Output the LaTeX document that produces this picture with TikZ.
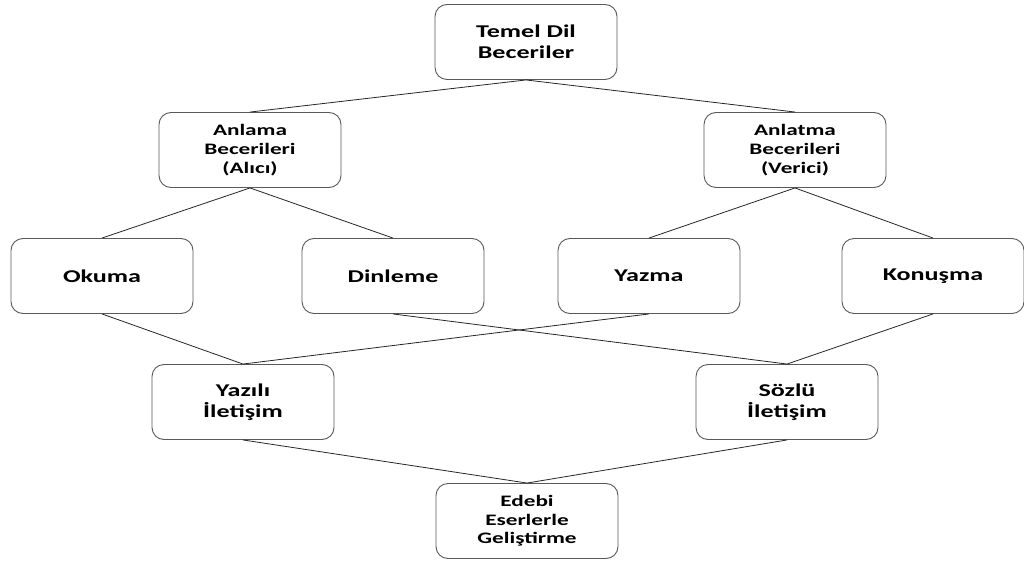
\documentclass[tikz,border=0pt]{standalone}
\usepackage{fontspec}
\setmainfont{Carlito}[FakeStretch=1.45]
\usetikzlibrary{positioning}

\newcommand{\bigtxt}{\fontsize{18}{20.5}\selectfont\bfseries}
\newcommand{\smalltxt}{\fontsize{16}{18.7}\selectfont\bfseries}

\tikzset{
  skillbox/.style={draw=black!65, line width=0.9pt, rounded corners=12pt,
                   fill=white, minimum width=182pt, minimum height=75pt,
                   align=center, font=\bigtxt},
  smallbox/.style={skillbox, font=\smalltxt},
  link/.style={draw=black!85, line width=0.8pt}
}

\begin{document}
\begin{tikzpicture}[x=1pt, y=1pt]

  \useasboundingbox (0,0) rectangle (1024,563);

  %% ── Row heights ────────────────────────────────────────────
  \def\ytop{521}
  \def\ymid{413}
  \def\yskill{287}
  \def\ycomm{161}
  \def\ybottom{42}

  %% ── Nodes ──────────────────────────────────────────────────
  \node[skillbox] (temel) at (526, \ytop) {Temel Dil\\Beceriler};

  \node[smallbox] (anlama)  at (250, \ymid) {Anlama\\Becerileri\\(Alıcı)};
  \node[smallbox] (anlatma) at (795, \ymid) {Anlatma\\Becerileri\\(Verici)};

  \node[skillbox] (okuma)   at (102, \yskill) {Okuma};
  \node[skillbox] (dinleme) at (393, \yskill) {Dinleme};
  \node[skillbox] (yazma)   at (649, \yskill) {Yazma};
  \node[skillbox] (konusma) at (933, \yskill) {Konuşma};

  \node[skillbox] (yazili) at (243, \ycomm) {Yazılı\\İletişim};
  \node[skillbox] (sozlu)  at (787, \ycomm) {Sözlü\\İletişim};

  \node[smallbox] (edebi) at (527, \ybottom) {Edebi\\Eserlerle\\Geliştirme};

  %% ── Connectors ─────────────────────────────────────────────
  \draw[link] (temel.south) -- (anlama.north);
  \draw[link] (temel.south) -- (anlatma.north);

  \draw[link] (anlama.south) -- (okuma.north);
  \draw[link] (anlama.south) -- (dinleme.north);
  \draw[link] (anlatma.south) -- (yazma.north);
  \draw[link] (anlatma.south) -- (konusma.north);

  \draw[link] (okuma.south) -- (yazili.north);
  \draw[link] (yazma.south) -- (yazili.north);
  \draw[link] (dinleme.south) -- (sozlu.north);
  \draw[link] (konusma.south) -- (sozlu.north);

  \draw[link] (yazili.south) -- (edebi.north);
  \draw[link] (sozlu.south) -- (edebi.north);

\end{tikzpicture}
\end{document}
